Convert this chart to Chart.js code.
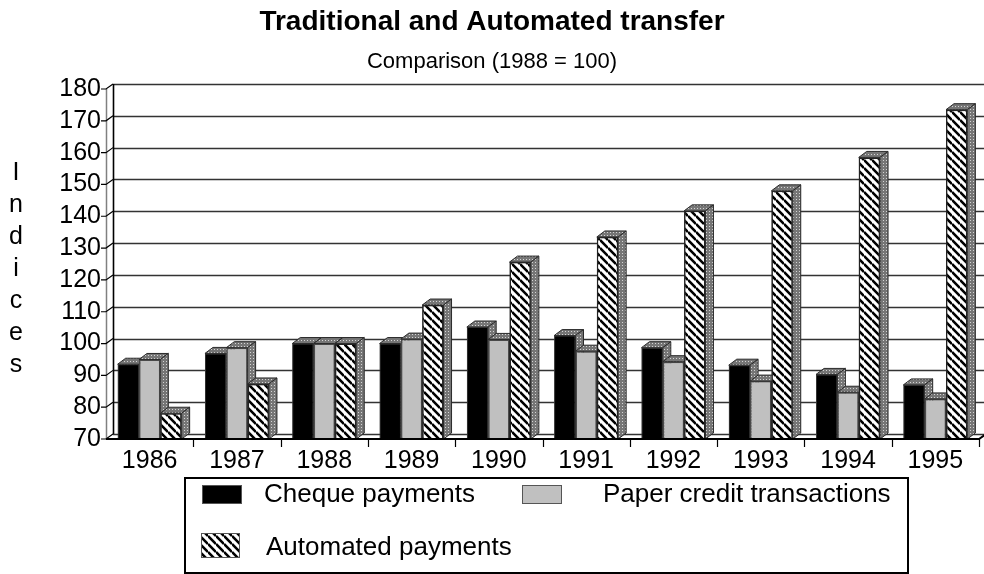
<!DOCTYPE html>
<html>
<head>
<meta charset="utf-8">
<title>Traditional and Automated transfer</title>
<script src="https://cdn.jsdelivr.net/npm/chart.js@4.4.1/dist/chart.umd.min.js"></script>
<style>
  html, body { margin: 0; padding: 0; background: #fff; }
  #wrap { width: 984px; height: 574px; }
</style>
</head>
<body>
<div id="wrap"><canvas id="chart" width="984" height="574"></canvas></div>
<script>
// ---- DATA (index, 1988 = 100) ----
const years = ['1986', '1987', '1988', '1989', '1990', '1991', '1992', '1993', '1994', '1995'];
const chequePayments = [93.5, 96.9, 100, 100, 105.2, 102.5, 98.7, 93.2, 90.3, 87.0];
const paperCredit = [95.0, 98.7, 100, 101.4, 101.3, 97.6, 94.3, 88.2, 84.7, 82.6];
const automatedPayments = [78.1, 87.3, 100, 112.1, 125.6, 133.5, 141.7, 148.0, 158.5, 173.5];
const yTicks = [70, 80, 90, 100, 110, 120, 130, 140, 150, 160, 170, 180];
const seriesNames = ['Cheque payments', 'Paper credit transactions', 'Automated payments'];

const FONT = "'Liberation Sans', Arial, Helvetica, sans-serif";

// depth of the fake 3D boxes and of the back wall
const BAR_DX = 8, BAR_DY = 6;
const WALL_DX = 7, WALL_DY = 5;

// ---- FILL PATTERNS ----
function makeHatch() {
    const c = document.createElement('canvas');
    c.width = 8; c.height = 8;
    const g = c.getContext('2d');
    g.fillStyle = '#fff';
    g.fillRect(0, 0, 8, 8);
    g.strokeStyle = '#000';
    g.lineWidth = 2.6;
    g.beginPath();
    for (let k = -1; k <= 1; k++) {
        g.moveTo(0, k * 8);
        g.lineTo(8, 8 + k * 8);
    }
    g.stroke();
    return g.createPattern(c, 'repeat');
}

function makeStipple() {
    const c = document.createElement('canvas');
    c.width = 3; c.height = 3;
    const g = c.getContext('2d');
    g.fillStyle = '#767676';
    g.fillRect(0, 0, 3, 3);
    g.fillStyle = '#d4d4d4';
    g.fillRect(1, 1, 1, 1);
    return g.createPattern(c, 'repeat');
}

const hatch = makeHatch();
const stipple = makeStipple();

function drawDepth(ctx, bar) {
    const l = bar.x - bar.width / 2;
    const r = bar.x + bar.width / 2;
    const t = bar.y;
    const b = bar.base;
    ctx.save();
    ctx.fillStyle = stipple;
    ctx.strokeStyle = '#2a2a2a';
    ctx.lineWidth = 1;
    // top face
    ctx.beginPath();
    ctx.moveTo(l, t);
    ctx.lineTo(l + BAR_DX, t - BAR_DY);
    ctx.lineTo(r + BAR_DX, t - BAR_DY);
    ctx.lineTo(r, t);
    ctx.closePath();
    ctx.fill();
    ctx.stroke();
    // right face
    ctx.beginPath();
    ctx.moveTo(r, t);
    ctx.lineTo(r + BAR_DX, t - BAR_DY);
    ctx.lineTo(r + BAR_DX, b - BAR_DY);
    ctx.lineTo(r, b);
    ctx.closePath();
    ctx.fill();
    ctx.stroke();
    ctx.restore();
}

// ---- 3D BOX SIDES, BACK WALL, LEGEND, TITLES ----
const depthPlugin = {
    id: 'depth3d',
    beforeDatasetsDraw(chart) {
        const { ctx, chartArea: a, scales: { y } } = chart;
        ctx.save();

        // back wall grid lines
        ctx.strokeStyle = '#333';
        ctx.lineWidth = 1.6;
        yTicks.forEach(v => {
            const py = Math.round(y.getPixelForValue(v) - WALL_DY) + 0.5;
            ctx.beginPath();
            ctx.moveTo(a.left + WALL_DX, py);
            ctx.lineTo(a.right + WALL_DX, py);
            ctx.stroke();
        });

        // back wall left edge
        ctx.strokeStyle = '#000';
        ctx.beginPath();
        ctx.moveTo(a.left + WALL_DX + 0.5, a.top - WALL_DY);
        ctx.lineTo(a.left + WALL_DX + 0.5, a.bottom - WALL_DY);
        ctx.stroke();

        // front value axis
        ctx.strokeStyle = '#808080';
        ctx.lineWidth = 1.5;
        ctx.beginPath();
        ctx.moveTo(a.left + 0.5, a.top);
        ctx.lineTo(a.left + 0.5, a.bottom);
        ctx.stroke();

        // value ticks running back into the wall
        ctx.strokeStyle = '#000';
        ctx.lineWidth = 1.2;
        yTicks.forEach(v => {
            const py = y.getPixelForValue(v);
            ctx.beginPath();
            ctx.moveTo(a.left - 5, py);
            ctx.lineTo(a.left, py);
            ctx.lineTo(a.left + WALL_DX, py - WALL_DY);
            ctx.stroke();
        });
        ctx.restore();
    },
    afterDatasetsDraw(chart) {
        const { ctx, chartArea: a } = chart;

        // repaint series left to right so every box hides its left neighbour's side
        chart.data.datasets.forEach((ds, i) => {
            chart.getDatasetMeta(i).data.forEach(bar => {
                bar.draw(ctx);
                drawDepth(ctx, bar);
            });
        });

        const n = years.length;
        const step = (a.right - a.left) / n;
        ctx.save();

        // front base line
        ctx.strokeStyle = '#000';
        ctx.lineWidth = 2;
        ctx.beginPath();
        ctx.moveTo(a.left, a.bottom);
        ctx.lineTo(a.right, a.bottom);
        ctx.lineTo(a.right + WALL_DX, a.bottom - WALL_DY);
        ctx.stroke();

        // category separators
        ctx.lineWidth = 1.2;
        for (let i = 1; i <= n; i++) {
            const px = Math.round(a.left + i * step) + 0.5;
            ctx.beginPath();
            ctx.moveTo(px, a.bottom);
            ctx.lineTo(px, a.bottom + 8);
            ctx.stroke();
        }
        ctx.restore();
    },
    afterDraw(chart) {
        const { ctx } = chart;
        ctx.save();
        ctx.fillStyle = '#000';
        ctx.textAlign = 'center';
        ctx.textBaseline = 'middle';

        ctx.font = `bold 28px ${FONT}`;
        ctx.fillText('Traditional and Automated transfer', 492, 22);
        ctx.font = `22px ${FONT}`;
        ctx.fillText('Comparison (1988 = 100)', 492, 62);

        // stacked axis title
        ctx.font = `25px ${FONT}`;
        ctx.textBaseline = 'alphabetic';
        'Indices'.split('').forEach((ch, i) => {
            ctx.fillText(ch, 16, 180 + i * 32);
        });

        // legend box
        ctx.lineWidth = 2;
        ctx.strokeStyle = '#000';
        ctx.strokeRect(185, 478, 723, 95);

        const swatches = [
            { x: 202, y: 485, w: 40, h: 19, fill: '#000', tx: 264, ty: 495 },
            { x: 522, y: 485, w: 40, h: 19, fill: '#c0c0c0', tx: 603, ty: 495 },
            { x: 201, y: 533, w: 39, h: 25, fill: hatch, tx: 266, ty: 548 }
        ];
        ctx.font = `26px ${FONT}`;
        ctx.textAlign = 'left';
        ctx.textBaseline = 'middle';
        swatches.forEach((s, i) => {
            ctx.fillStyle = s.fill;
            ctx.fillRect(s.x, s.y, s.w, s.h);
            ctx.strokeStyle = '#555';
            ctx.lineWidth = 1;
            ctx.strokeRect(s.x + 0.5, s.y + 0.5, s.w - 1, s.h - 1);
            ctx.fillStyle = '#000';
            ctx.fillText(seriesNames[i], s.tx, s.ty);
        });
        ctx.restore();
    }
};

const ctx = document.getElementById('chart').getContext('2d');

new Chart(ctx, {
    type: 'bar',
    data: {
        labels: years,
        datasets: [
            { label: seriesNames[0], data: chequePayments, backgroundColor: '#000', borderColor: '#333', borderWidth: 1 },
            { label: seriesNames[1], data: paperCredit, backgroundColor: '#c0c0c0', borderColor: '#4a4a4a', borderWidth: 1.5 },
            { label: seriesNames[2], data: automatedPayments, backgroundColor: hatch, borderColor: '#222', borderWidth: 1.5 }
        ]
    },
    options: {
        responsive: false,
        animation: false,
        devicePixelRatio: 1,
        layout: { padding: { top: 89, right: 5, bottom: 0, left: 0 } },
        datasets: {
            bar: { categoryPercentage: 0.733, barPercentage: 1, base: 70, borderSkipped: 'bottom' }
        },
        scales: {
            x: {
                grid: { display: false, drawTicks: false },
                border: { display: false },
                ticks: { color: '#000', font: { family: FONT, size: 25 }, padding: 7, maxRotation: 0, autoSkip: false },
                afterFit: s => { s.height = 135; }
            },
            y: {
                min: 70,
                max: 180,
                grid: { display: false, drawTicks: false },
                border: { display: false },
                afterBuildTicks: s => { s.ticks = yTicks.map(v => ({ value: v })); },
                ticks: { color: '#000', font: { family: FONT, size: 25 }, padding: 5, autoSkip: false },
                afterFit: s => { s.width = 106; }
            }
        },
        plugins: {
            legend: { display: false },
            tooltip: { enabled: false }
        }
    },
    plugins: [depthPlugin]
});
</script>
</body>
</html>
